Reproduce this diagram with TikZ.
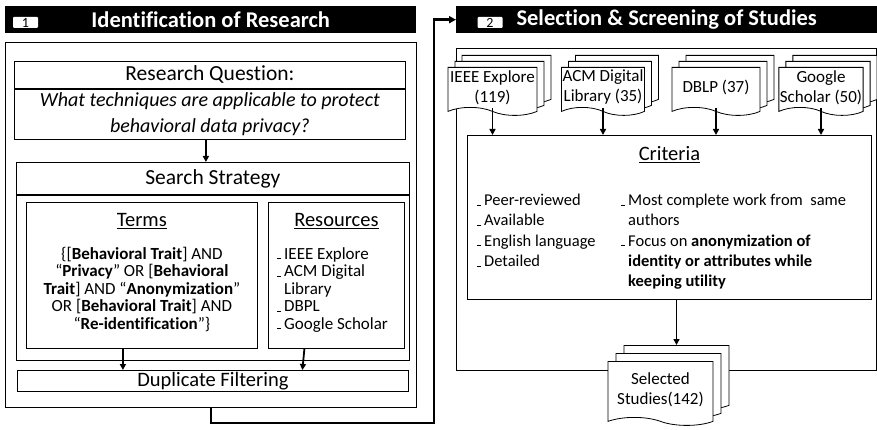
\documentclass[tikz,border=0pt]{standalone}
\usepackage{fontspec}
\setmainfont{Carlito}[Ligatures = NoCommon]
\usetikzlibrary{%
  calc,
  positioning,
  shapes.symbols,
  shadows,
  arrows.meta,
}

\newcommand{\bul}{\makebox[7pt][l]{\rule{3.5pt}{0.7pt}}}
\newcommand{\hang}{\makebox[7pt]{}}

\begin{document}
\begin{tikzpicture}[x=1pt, y=-1pt,
    box/.style = {draw = black, line width = 0.8pt, fill = white, inner sep = 0pt},
    bar/.style = {fill = black, inner sep = 0pt, minimum height = 27pt,
      text = white, font = \fontsize{22.5}{26}\selectfont\bfseries},
    badge/.style = {fill = white, rounded corners = 1pt, minimum width = 25pt,
      minimum height = 11pt, inner sep = 0pt, font = \fontsize{14}{14}\selectfont},
    doc/.style = {tape, tape bend top = none, tape bend bottom = out and in,
      tape bend height = 8pt, draw = black, line width = 0.8pt, fill = white,
      align = center, inner sep = 1pt, font = \fontsize{17}{20}\selectfont},
    docs/.style = {doc, double copy shadow = {shadow xshift = 7pt,
      shadow yshift = 6pt, draw = black, fill = white, line width = 0.8pt}},
    bigdocs/.style = {doc, double copy shadow = {shadow xshift = 8pt,
      shadow yshift = 8pt, draw = black, fill = white, line width = 0.8pt}},
    arr/.style = {line width = 1.8pt, -{Triangle[length = 6pt, width = 6pt]}},
    ttl/.style = {inner sep = 0pt, font = \fontsize{20.5}{24}\selectfont},
    bigttl/.style = {inner sep = 0pt, font = \fontsize{21.5}{24}\selectfont},
    txt/.style = {inner sep = 0pt, font = \fontsize{17}{17.5}\selectfont},
  ]
  \useasboundingbox (0,0) rectangle (877,430);

  % step 1
  \node[bar, minimum width = 411pt, anchor = north west] (hdr1) at (5,6)
    {Identification of Research};
  \node[badge] (bdg1) at (25.5,22.5) {1};

  \node[box, minimum width = 411pt, minimum height = 365pt,
    anchor = north west] (lpanel) at (5,42) {};

  \node[box, bigttl, minimum width = 391pt, minimum height = 27pt,
    anchor = north west] (rqhead) at (14,61) {Research Question:};
  \node[box, minimum width = 391pt, minimum height = 50pt, below = 0pt of rqhead,
    align = center, font = \fontsize{20}{26.5}\selectfont\itshape] (rqbody)
    {What techniques are applicable to protect\\behavioral data privacy?};

  \node[box, bigttl, minimum width = 393pt, minimum height = 32pt,
    anchor = north west] (sshead) at (16,162) {Search Strategy};
  \node[box, minimum width = 393pt, minimum height = 165pt,
    below = 0pt of sshead] (ssbody) {};

  \node[box, minimum width = 231pt, minimum height = 146pt,
    anchor = north west] (terms) at (26,202) {};
  \node[ttl, anchor = base] (termsttl) at ($(terms.north)+(0,25)$)
    {\underline{Terms}};
  \node[txt, align = center, anchor = north] (termstxt) at ($(terms.north)+(0,45)$)
    {\{[\textbf{Behavioral Trait}] AND\\
     “\textbf{Privacy}” OR [\textbf{Behavioral}\\
     \textbf{Trait}] AND “\textbf{Anonymization}”\\
     OR [\textbf{Behavioral Trait}] AND\\
     “\textbf{Re-identification}”\}};

  \node[box, minimum width = 136pt, minimum height = 146pt,
    anchor = north west] (res) at (268,202) {};
  \node[ttl, anchor = base] (resttl) at ($(res.north)+(0,25)$)
    {\underline{Resources}};
  \node[txt, align = left, anchor = north west] (restxt) at (277,247)
    {\bul IEEE Explore\\
     \bul ACM Digital\\
     \hang Library\\
     \bul DBPL\\
     \bul Google Scholar};

  \node[box, ttl, minimum width = 391pt, minimum height = 21pt,
    anchor = north west] (dup) at (17,370) {Duplicate Filtering};

  \coordinate (tA) at ($(terms.south)+(-19,0)$);
  \coordinate (rA) at ($(res.south)+(-32,0)$);
  \draw[arr] ($(rqbody.south)+(-4,0)$) -- ($(rqbody.south |- sshead.north)+(-4,0)$);
  \draw[arr] (tA) -- (tA |- dup.north);
  \draw[arr] (rA) -- ($(rA |- dup.north)+(-2,0)$);

  % step 2
  \node[bar, minimum width = 421pt, anchor = north west] (hdr2) at (456,6)
    {Selection \& Screening of Studies};
  \node[badge] (bdg2) at (490,22.5) {2};

  \node[box, minimum width = 420pt, minimum height = 322pt,
    anchor = north west] (rpanel) at (456,48) {};

  \node[docs, minimum width = 89pt, minimum height = 48pt, anchor = north]
    (ieee) at (492.5,67) {IEEE Explore\\(119)};
  \node[docs, minimum width = 82pt, minimum height = 48pt, anchor = north]
    (acm) at (603,67) {ACM Digital\\Library (35)};
  \node[docs, minimum width = 88pt, minimum height = 48pt, anchor = north]
    (dblp) at (716,67) {DBLP (37)};
  \node[docs, minimum width = 80pt, minimum height = 48pt, anchor = north]
    (gs) at (821,67) {Google\\Scholar (50)};

  \node[box, minimum width = 404pt, minimum height = 164pt,
    anchor = north west] (crit) at (467,135) {};
  \node[ttl, anchor = base] (critttl) at ($(crit.north)+(0,26)$)
    {\underline{Criteria}};
  \node[txt, align = left, anchor = north west,
    font = \fontsize{16.5}{20.2}\selectfont] (critL) at (477,194)
    {\bul Peer-reviewed\\
     \bul Available\\
     \bul English language\\
     \bul Detailed};
  \node[txt, align = left, anchor = north west,
    font = \fontsize{16.5}{20.2}\selectfont] (critR) at (621,194)
    {\bul Most complete work from\ \ same\\
     \hang authors\\
     \bul Focus on \textbf{anonymization of}\\
     \hang\textbf{identity or attributes while}\\
     \hang\textbf{keeping utility}};

  \foreach \src in {ieee, acm, dblp, gs}
    \draw[arr] (\src.south) -- (\src.south |- crit.north);

  \node[bigdocs, minimum width = 105pt, minimum height = 64pt, anchor = north]
    (sel) at (660.5,361) {Selected\\Studies(142)};
  \coordinate (selback) at ($(sel.north)+(16,-16)$);
  \draw[arr] (crit.south -| selback) -- (selback);

  % link between steps
  \draw[line width = 2.5pt, -{Triangle[length = 7pt, width = 7pt]}]
    (lpanel.south) -- ++(0,15) -| ($(hdr2.west)+(-22,0)$) -- (hdr2.west);
\end{tikzpicture}
\end{document}
